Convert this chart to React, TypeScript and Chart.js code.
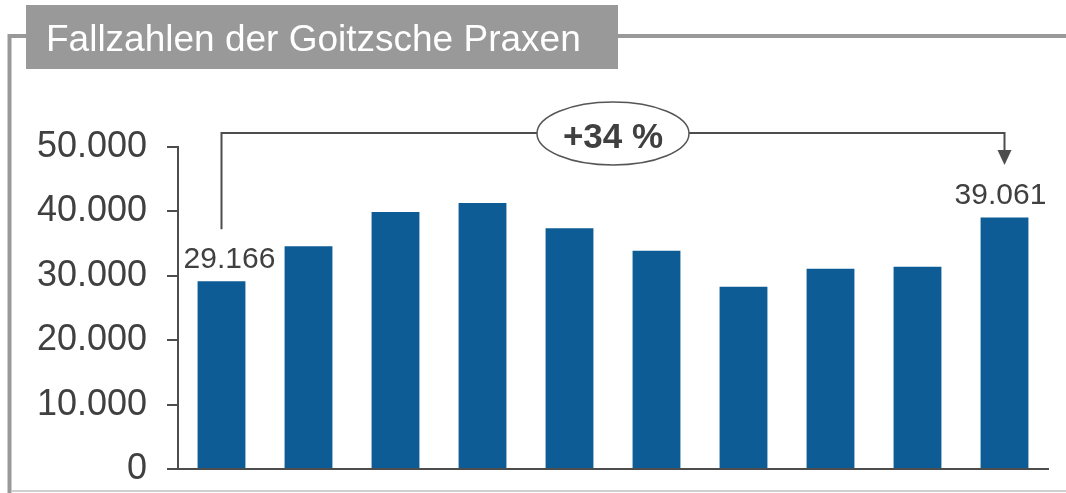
import { useEffect, useRef } from "react";
import { Chart, registerables } from "chart.js";

Chart.register(...registerables);

const chartTitle = "Fallzahlen der Goitzsche Praxen";
const categories = ["1", "2", "3", "4", "5", "6", "7", "8", "9", "10"];
const caseCounts = [29166, 34600, 39900, 41300, 37400, 33900, 28300, 31100, 31400, 39061];
const yTickValues = [0, 10000, 20000, 30000, 40000, 50000];
const labelledBars = [0, 9];
const growthLabel = "+34 %";

const FONT = "'Liberation Sans', Arial, Helvetica, sans-serif";
const TEXT = "#404040";
const LINE = "#4d4d4d";
const BAR = "#0d5c95";
const FRAME = "#999999";

function fmt(n: number): string {
  return String(Math.round(n)).replace(/\B(?=(\d{3})+(?!\d))/g, ".");
}

const decorations = {
  id: "decorations",
  beforeDraw(chart: any) {
    const ctx = chart.ctx;
    const W = chart.width;
    const H = chart.height;
    ctx.save();
    ctx.fillStyle = "#ffffff";
    ctx.fillRect(0, 0, W, H);
    // frame
    ctx.strokeStyle = FRAME;
    ctx.lineWidth = 4;
    ctx.beginPath();
    ctx.moveTo(9.5, H);
    ctx.lineTo(9.5, 36);
    ctx.lineTo(27, 36);
    ctx.moveTo(617, 36);
    ctx.lineTo(W, 36);
    ctx.stroke();
    // bottom light line
    ctx.strokeStyle = "#cfcfcf";
    ctx.lineWidth = 2;
    ctx.beginPath();
    ctx.moveTo(12, 491);
    ctx.lineTo(W, 491);
    ctx.stroke();
    // title box
    ctx.fillStyle = FRAME;
    ctx.fillRect(26, 5, 592, 64);
    ctx.fillStyle = "#ffffff";
    ctx.font = `37px ${FONT}`;
    ctx.textAlign = "left";
    ctx.textBaseline = "alphabetic";
    ctx.fillText(chartTitle, 46, 51);
    ctx.restore();
  },
  afterDatasetsDraw(chart: any) {
    const ctx = chart.ctx;
    const meta = chart.getDatasetMeta(0);
    ctx.save();
    // value labels
    ctx.fillStyle = TEXT;
    ctx.font = `30px ${FONT}`;
    ctx.textAlign = "center";
    ctx.textBaseline = "alphabetic";
    labelledBars.forEach((i, k) => {
      const bar = meta.data[i];
      const dx = k === 0 ? 8 : -4;
      ctx.fillText(fmt(caseCounts[i]), bar.x + dx, bar.y - 13);
    });
    // bracket
    const b0 = meta.data[labelledBars[0]];
    const b1 = meta.data[labelledBars[1]];
    const x0 = b0.x;
    const x1 = b1.x;
    const yTop = 133;
    ctx.strokeStyle = LINE;
    ctx.lineWidth = 2;
    ctx.beginPath();
    ctx.moveTo(x0, b0.y - 52);
    ctx.lineTo(x0, yTop);
    ctx.lineTo(x1, yTop);
    ctx.lineTo(x1, 151);
    ctx.stroke();
    ctx.fillStyle = LINE;
    ctx.beginPath();
    ctx.moveTo(x1 - 7, 150);
    ctx.lineTo(x1 + 7, 150);
    ctx.lineTo(x1, 165);
    ctx.closePath();
    ctx.fill();
    // ellipse
    const cx = (x0 + x1) / 2;
    ctx.beginPath();
    ctx.ellipse(cx, 133.5, 76, 31.5, 0, 0, Math.PI * 2);
    ctx.fillStyle = "#ffffff";
    ctx.fill();
    ctx.strokeStyle = "#555555";
    ctx.lineWidth = 1.5;
    ctx.stroke();
    ctx.fillStyle = TEXT;
    ctx.font = `bold 35px ${FONT}`;
    ctx.textAlign = "center";
    ctx.fillText(growthLabel, cx, 148);
    ctx.restore();
  },
};

export default function App() {
  const ref = useRef<HTMLCanvasElement | null>(null);
  useEffect(() => {
    if (!ref.current) return;
    const chart = new Chart(ref.current, {
      type: "bar",
      data: {
        labels: categories,
        datasets: [
          {
            data: caseCounts,
            backgroundColor: BAR,
            borderWidth: 0,
            barPercentage: 0.55,
            categoryPercentage: 1,
          },
        ],
      },
      options: {
        animation: false,
        responsive: false,
        devicePixelRatio: 1,
        layout: { padding: { left: 0, top: 147, right: 18, bottom: 24 } },
        plugins: { legend: { display: false }, tooltip: { enabled: false } },
        scales: {
          x: {
            grid: { display: false, drawTicks: false },
            ticks: { display: false, padding: 0 },
            border: { display: true, color: LINE, width: 2 },
            afterFit: (s: any) => {
              s.height = 0;
              s.paddingLeft = 0;
              s.paddingRight = 0;
              s.paddingTop = 0;
              s.paddingBottom = 0;
            },
          },
          y: {
            min: 0,
            max: 50000,
            afterBuildTicks: (s: any) => {
              s.ticks = yTickValues.map((v) => ({ value: v }));
            },
            ticks: {
              callback: (v: any) => fmt(Number(v)),
              font: { size: 36, family: FONT },
              color: TEXT,
              padding: 20,
            },
            grid: { drawOnChartArea: false, tickLength: 11, color: LINE, lineWidth: 2 },
            border: { display: true, color: LINE, width: 2 },
            afterFit: (s: any) => {
              s.width = 178;
              s.paddingTop = 0;
              s.paddingBottom = 0;
            },
          },
        },
      },
      plugins: [decorations],
    });
    return () => chart.destroy();
  }, []);
  return (
    <div style={{ position: "fixed", left: 0, top: 0, width: 1066, height: 493 }}>
      <canvas ref={ref} width={1066} height={493} />
    </div>
  );
}
